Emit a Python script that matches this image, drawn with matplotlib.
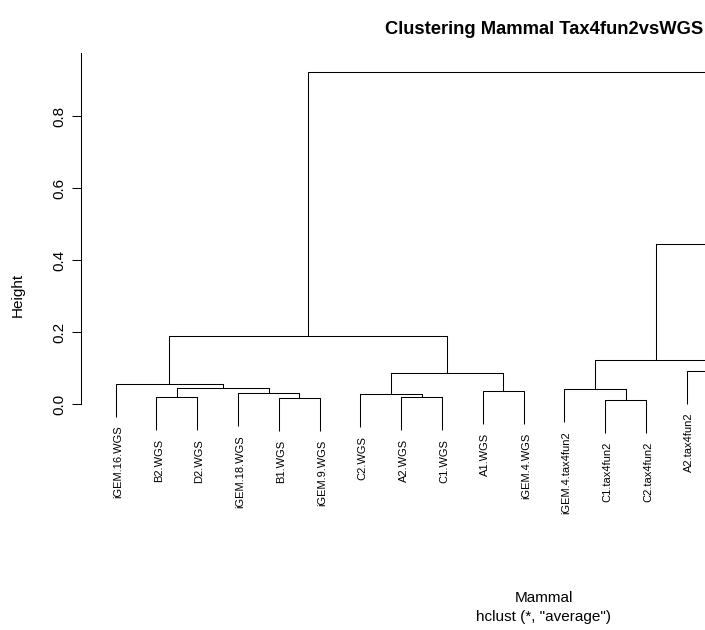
import matplotlib
matplotlib.use("Agg")
import matplotlib.pyplot as plt
from matplotlib.transforms import offset_copy

plt.rcParams['font.family'] = ['Liberation Sans', 'DejaVu Sans']

# ---- data (leaf order as drawn) ----
labels = [
    "iGEM.16.WGS", "B2.WGS", "D2.WGS", "iGEM.18.WGS", "B1.WGS", "iGEM.9.WGS",
    "C2.WGS", "A2.WGS", "C1.WGS", "A1.WGS", "iGEM.4.WGS",
    "iGEM.4.tax4fun2", "C1.tax4fun2", "C2.tax4fun2", "A2.tax4fun2",
    "A1.tax4fun2", "B1.tax4fun2", "B2.tax4fun2", "D2.tax4fun2",
    "iGEM.16.tax4fun2", "iGEM.18.tax4fun2", "iGEM.9.tax4fun2",
]
# R-style merge table: negative = leaf (1-based index into labels), positive = earlier merge
merge_left = [-5, -2, -8, -13, -7, -4, -10, -12, 2, -1, 5, -16, -15, 8,
              -18, -21, -20, 15, 10, 14, 19]
merge_right = [-6, -3, -9, -14, 3, 1, -11, 4, 6, 9, 7, -17, 12, 13,
               -19, -22, 16, 17, 11, 18, 20]
merge_height = [0.0166, 0.0194, 0.0203, 0.0119, 0.0277, 0.0305, 0.0369,
                0.0416, 0.0444, 0.0572, 0.0877, 0.0520, 0.0932, 0.1229,
                0.0300, 0.0250, 0.0650, 0.1600, 0.1903, 0.4440, 0.9230]

title = "Clustering Mammal Tax4fun2vsWGS"
xlab = "Mammal"
sub = 'hclust (*, "average")'
ylab = "Height"
yticks = [0.0, 0.2, 0.4, 0.6, 0.8]

# ---- figure ----
W, H, DPI = 705, 630, 100
fig = plt.figure(figsize=(W / DPI, H / DPI), dpi=DPI)
left_px, right_px, top_px, bot_px = 81.4, 1006.6, 53.0, 537.0
ax = fig.add_axes([left_px / W, (H - bot_px) / H,
                   (right_px - left_px) / W, (bot_px - top_px) / H])

n = len(labels)
hang = 0.1 * (max(merge_height) - min(merge_height))
lw = 0.75
ax.set_xlim(1 - 0.04 * (n - 1), n + 0.04 * (n - 1))
ytop = 0.9748
ax.set_ylim(-0.368, ytop)

pos = {}
for k, (a, b, h) in enumerate(zip(merge_left, merge_right, merge_height), start=1):
    xs, ys = [], []
    for c in (a, b):
        if c < 0:
            xs.append(-c)
            ys.append(h - hang)
        else:
            xs.append(pos[c][0])
            ys.append(pos[c][1])
    ax.plot([xs[0], xs[0], xs[1], xs[1]], [ys[0], h, h, ys[1]],
            color='black', lw=lw, solid_capstyle='butt', clip_on=False)
    pos[k] = ((xs[0] + xs[1]) / 2.0, h)
    for c, x, y in zip((a, b), xs, ys):
        if c < 0:
            # the figure shows only the left part of the dendrogram
            px = ax.transData.transform((x, y))[0]
            if px > W - 8:
                continue
            tr = offset_copy(ax.transData, fig=fig, x=2.3, y=-9.0, units='dots')
            ax.text(x, y, labels[-c - 1], transform=tr, rotation=90,
                    ha='center', va='top', fontsize=8)

for s in ('top', 'right', 'bottom'):
    ax.spines[s].set_visible(False)
ax.spines['left'].set_bounds(0, ytop)
ax.spines['left'].set_linewidth(lw)
ax.set_xticks([])
ax.set_yticks(yticks)
ax.set_yticklabels([f"{v:.1f}" for v in yticks], rotation=90, va='center', fontsize=11)
ax.tick_params(axis='y', direction='out', length=6.5, width=lw, pad=4.5)

cx = (left_px + right_px) / 2 / W
fig.text(cx, 1 - 30 / H, title, ha='center', va='center', fontsize=13.2, fontweight='bold')
fig.text(cx, 1 - 598 / H, xlab, ha='center', va='center', fontsize=11)
fig.text(cx, 1 - 617 / H, sub, ha='center', va='center', fontsize=11)
fig.text(18 / W, 1 - 295 / H, ylab, rotation=90, ha='center', va='center', fontsize=11)

fig.savefig("out.png", dpi=DPI)
